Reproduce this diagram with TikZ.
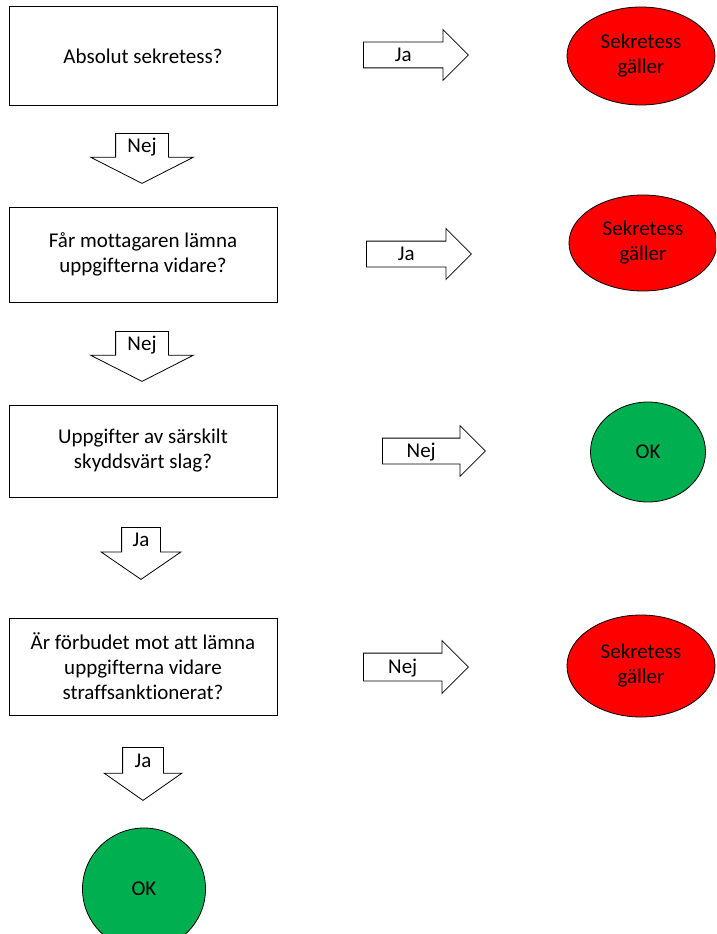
\documentclass[tikz,border=0pt]{standalone}
\usepackage{fontspec}
\setmainfont{Carlito}[Ligatures=NoCommon]
\usetikzlibrary{shapes.geometric, shapes.arrows}

\definecolor{SekrRed}{HTML}{FF0000}
\definecolor{OkGreen}{HTML}{00B050}

\tikzset{
  question/.style={draw, line width=1pt, minimum width=268pt, align=center, inner sep=0pt},
  outcome/.style={ellipse, draw, line width=0.8pt, inner sep=0pt, align=center},
  rightarrow/.style={single arrow, draw, line width=0.8pt, anchor=tail,
    single arrow head extend=12.5pt, single arrow tip angle=90, single arrow head indent=0pt,
    minimum height=105pt, inner ysep=0pt, inner xsep=0pt, text height=19pt, text depth=6pt},
  downarrow/.style={single arrow, draw, line width=0.8pt, anchor=tail, shape border rotate=270,
    single arrow head indent=0pt, inner sep=0pt, align=center, text height=12pt},
}
% word in the shaft, pushed back from the head
\newcommand{\shaftword}[1]{#1\kern12.5pt}

\begin{document}
\begin{tikzpicture}[x=1pt, y=-1pt, font=\fontsize{21}{25}\selectfont]
  \useasboundingbox (0,0) rectangle (716,934);
  \clip (0,0) rectangle (716,934);

  % Questions
  \node[question, minimum height=98pt] (absolut) at (143,56) {Absolut sekretess?};
  \node[question, minimum height=95pt] (vidare) at (143,254.5) {Får mottagaren lämna\\uppgifterna vidare?};
  \node[question, minimum height=92pt] (sarskilt) at (143,451) {Uppgifter av särskilt\\skyddsvärt slag?};
  \node[question, minimum height=97pt] (straff) at (143,666.5) {Är förbudet mot att lämna\\uppgifterna vidare\\straffsanktionerat?};

  % Outcomes
  \node[outcome, fill=SekrRed, minimum width=148pt, minimum height=98pt] (sekr1) at (641,56) {Sekretess\\gäller};
  \node[outcome, fill=SekrRed, minimum width=148pt, minimum height=96pt] (sekr2) at (643,243) {Sekretess\\gäller};
  \node[outcome, fill=OkGreen, minimum width=115pt, minimum height=100pt] (ok1) at (648,452) {OK};
  \node[outcome, fill=SekrRed, minimum width=148pt, minimum height=102pt] (sekr3) at (641,666) {Sekretess\\gäller};
  \node[outcome, fill=OkGreen, minimum width=123pt, minimum height=122pt] (ok2) at (144,889) {OK};

  % Sideways answers
  \node[rightarrow] (ja1) at (363,55) {\shaftword{Ja}};
  \node[rightarrow] (ja2) at (366,254) {\shaftword{Ja}};
  \node[rightarrow, minimum height=103pt] (nej3) at (382,451) {\shaftword{Nej}};
  \node[rightarrow, text height=20pt, text depth=7pt] (nej4) at (363,667) {\shaftword{Nej}};

  % Downward answers
  \node[downarrow, text width=52pt, text depth=11.3pt, minimum height=50pt,
    single arrow head extend=25pt, single arrow tip angle=126] (nej1) at (142,133) {Nej};
  \node[downarrow, text width=52pt, text depth=11.3pt, minimum height=50pt,
    single arrow head extend=25pt, single arrow tip angle=126] (nej2) at (142,331) {Nej};
  \node[downarrow, text width=38pt, text depth=12.6pt, minimum height=52pt,
    single arrow head extend=20.5pt, single arrow tip angle=111] (ja3) at (141,527) {Ja};
  \node[downarrow, text width=40pt, text depth=11.5pt, minimum height=53pt,
    single arrow head extend=18.5pt, single arrow tip angle=110] (ja4) at (143,747) {Ja};
\end{tikzpicture}
\end{document}
